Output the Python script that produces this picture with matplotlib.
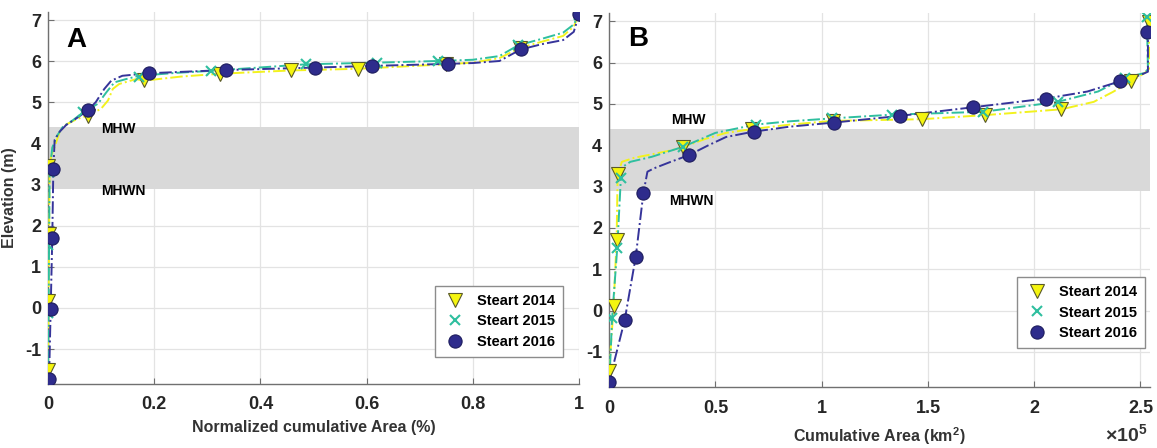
import numpy as np
import matplotlib
matplotlib.use("Agg")
import matplotlib.pyplot as plt
from matplotlib.ticker import FuncFormatter, MultipleLocator
from matplotlib.lines import Line2D

plt.rcParams['font.family'] = ['Liberation Sans', 'DejaVu Sans']
plt.rcParams['font.weight'] = 'bold'
plt.rcParams['axes.unicode_minus'] = False
plt.rcParams['mathtext.fontset'] = 'custom'
plt.rcParams['mathtext.rm'] = 'Liberation Sans:bold'
plt.rcParams['mathtext.bf'] = 'Liberation Sans:bold'

labels = ['Steart 2014', 'Steart 2015', 'Steart 2016']
mhw = 4.4
mhwn = 2.9

# panel A: normalized cumulative area, curves and marker points
a14_x = [0.0, 0.001, 0.002, 0.003, 0.006, 0.0125, 0.022, 0.035, 0.055, 0.077, 0.1, 0.113, 0.122, 0.134,
         0.166, 0.18, 0.25, 0.324, 0.458, 0.584, 0.749, 0.80, 0.85, 0.889, 0.93, 0.97, 0.99, 1.0]
a14_y = [-1.50, 0.16, 1.81, 3.45, 3.7, 3.92, 4.29, 4.47, 4.6, 4.69, 4.85, 5.05, 5.33, 5.45,
         5.57, 5.53, 5.63, 5.70, 5.78, 5.82, 5.93, 5.97, 6.08, 6.33, 6.48, 6.62, 6.85, 7.15]
a15_x = [0.0, 0.001, 0.002, 0.003, 0.008, 0.016, 0.028, 0.047, 0.066, 0.094, 0.11, 0.125, 0.147, 0.172,
         0.24, 0.307, 0.486, 0.62, 0.735, 0.80, 0.85, 0.885, 0.93, 0.97, 0.99, 1.0]
a15_y = [-1.84, -0.13, 1.53, 3.30, 3.9, 4.17, 4.41, 4.57, 4.76, 4.97, 5.25, 5.49, 5.57, 5.65,
         5.72, 5.77, 5.93, 5.97, 6.01, 6.04, 6.13, 6.39, 6.55, 6.7, 6.9, 7.14]
a16_x = [0.002, 0.005, 0.008, 0.010, 0.0125, 0.022, 0.034, 0.053, 0.075, 0.09, 0.106, 0.119, 0.14, 0.187,
         0.26, 0.336, 0.503, 0.61, 0.753, 0.80, 0.85, 0.89, 0.93, 0.97, 0.99, 1.0]
a16_y = [-1.72, -0.03, 1.69, 3.38, 4.09, 4.29, 4.45, 4.61, 4.81, 5.01, 5.33, 5.53, 5.65, 5.71,
         5.75, 5.79, 5.85, 5.89, 5.94, 5.96, 6.01, 6.29, 6.42, 6.52, 6.72, 7.15]
a14_mx = [0.0, 0.0, 0.002, 0.0, 0.075, 0.181, 0.324, 0.458, 0.584, 0.749, 0.889, 1.0]
a14_my = [-1.50, 0.16, 1.81, 3.45, 4.68, 5.55, 5.70, 5.78, 5.82, 5.93, 6.33, 7.15]
a15_mx = [0.0, 0.0, 0.0, 0.002, 0.066, 0.171, 0.307, 0.486, 0.62, 0.735, 0.885, 1.0]
a15_my = [-1.84, -0.13, 1.53, 3.30, 4.76, 5.62, 5.77, 5.93, 5.97, 6.01, 6.39, 7.14]
a16_mx = [0.002, 0.005, 0.008, 0.010, 0.075, 0.19, 0.336, 0.503, 0.61, 0.753, 0.89, 1.0]
a16_my = [-1.72, -0.03, 1.69, 3.38, 4.81, 5.71, 5.79, 5.85, 5.89, 5.94, 6.29, 7.15]

# panel B: cumulative area (x 1e5 km2)
b14_x = [0.0, 0.021, 0.035, 0.040, 0.06, 0.12, 0.2, 0.294, 0.346, 0.45, 0.55, 0.671, 0.85, 1.052, 1.47,
         1.77, 2.128, 2.28, 2.37, 2.457, 2.526, 2.54, 2.54]
b14_y = [-1.47, 0.11, 1.71, 3.31, 3.6, 3.7, 3.78, 3.88, 3.95, 4.15, 4.3, 4.39, 4.5, 4.59, 4.63,
         4.73, 4.87, 5.05, 5.29, 5.55, 5.77, 5.85, 6.98]
b15_x = [0.0, 0.014, 0.038, 0.055, 0.07, 0.1, 0.2, 0.346, 0.5, 0.689, 0.85, 1.047, 1.33, 1.761,
         2.11, 2.3, 2.426, 2.52, 2.535, 2.53]
b15_y = [-1.84, -0.17, 1.51, 3.2, 3.5, 3.6, 3.72, 3.96, 4.3, 4.5, 4.58, 4.65, 4.74, 4.81,
         5.05, 5.3, 5.63, 5.75, 5.85, 7.10]
b16_x = [0.0, 0.073, 0.125, 0.161, 0.18, 0.21, 0.29, 0.375, 0.467, 0.55, 0.68, 0.85, 1.059, 1.367,
         1.713, 2.055, 2.25, 2.405, 2.5, 2.535, 2.535]
b16_y = [-1.72, -0.23, 1.30, 2.84, 3.36, 3.44, 3.6, 3.76, 4.0, 4.2, 4.33, 4.45, 4.55, 4.71,
         4.92, 5.13, 5.3, 5.55, 5.7, 5.78, 6.75]
b14_mx = [0.0, 0.021, 0.035, 0.040, 0.346, 0.671, 1.052, 1.47, 1.77, 2.128, 2.457, 2.54]
b14_my = [-1.47, 0.11, 1.71, 3.31, 3.95, 4.39, 4.59, 4.63, 4.73, 4.87, 5.55, 6.98]
b15_mx = [0.0, 0.014, 0.038, 0.055, 0.346, 0.689, 1.047, 1.33, 1.761, 2.11, 2.426, 2.53]
b15_my = [-1.84, -0.17, 1.51, 3.2, 3.96, 4.5, 4.65, 4.74, 4.81, 5.05, 5.63, 7.10]
b16_mx = [0.0, 0.073, 0.125, 0.161, 0.375, 0.68, 1.059, 1.367, 1.713, 2.055, 2.405, 2.53]
b16_my = [-1.72, -0.23, 1.30, 2.84, 3.76, 4.33, 4.55, 4.71, 4.92, 5.13, 5.55, 6.75]

line_colors = ['#f2f21e', '#2fbf9f', '#36349a']
styles = [dict(marker='v', ms=9.5, mfc='#f5f50f', mec='#5a5a2a', mew=0.8),
          dict(marker='x', ms=7, mfc='#2fbf9f', mec='#2fbf9f', mew=1.5),
          dict(marker='o', ms=9.5, mfc='#2e2c8c', mec='#1e1d5e', mew=0.8)]


def setup_axes(ax, xlim, xtick_step, xfmt):
    ax.set_xlim(*xlim)
    ax.set_ylim(-1.85, 7.2)
    ax.xaxis.set_major_locator(MultipleLocator(xtick_step))
    ax.yaxis.set_major_locator(MultipleLocator(1))
    ax.xaxis.set_major_formatter(FuncFormatter(xfmt))
    ax.yaxis.set_major_formatter(FuncFormatter(lambda v, p: '%g' % v))
    ax.grid(True, color='#e3e3e3', lw=0.9, zorder=0)
    ax.set_axisbelow(True)
    for s in ['top', 'right']:
        ax.spines[s].set_visible(False)
    for s in ['left', 'bottom']:
        ax.spines[s].set_color('#707070')
        ax.spines[s].set_linewidth(1.0)
    ax.tick_params(direction='in', length=4, color='#707070', labelsize=13, labelcolor='#262626')
    ax.tick_params(axis='x', pad=9)
    ax.tick_params(axis='y', pad=5)
    for lab in ax.get_xticklabels() + ax.get_yticklabels():
        lab.set_fontweight('bold')
    ax.axhspan(mhwn, mhw, color='#d9d9d9', lw=0, zorder=1)


def draw_panel(ax, curves, marks):
    for (cx, cy), (mx, my), col, st in zip(curves, marks, line_colors, styles):
        ax.plot(cx, cy, ls='-.', color=col, lw=1.4, zorder=3)
        ax.plot(mx, my, ls='none', zorder=4, **st)


fig = plt.figure(figsize=(11.57, 4.48), dpi=100)
ax1 = fig.add_axes([0.0415, 0.143, 0.459, 0.83])
ax2 = fig.add_axes([0.5265, 0.136, 0.4675, 0.835])

setup_axes(ax1, (0, 1), 0.2, lambda v, p: '%g' % round(v, 2))
draw_panel(ax1, [(a14_x, a14_y), (a15_x, a15_y), (a16_x, a16_y)],
           [(a14_mx, a14_my), (a15_mx, a15_my), (a16_mx, a16_my)])
ax1.set_xlabel('Normalized cumulative Area (%)', fontsize=11.5, fontweight='bold', color='#333333', labelpad=5)
ax1.set_ylabel('Elevation (m)', fontsize=11.5, fontweight='bold', color='#333333', labelpad=6)
ax1.text(0.1, mhw - 0.05, 'MHW', fontsize=10, fontweight='bold', va='center', zorder=5)
ax1.text(0.1, mhwn - 0.05, 'MHWN', fontsize=10, fontweight='bold', va='center', zorder=5)
ax1.text(0.035, 0.925, 'A', transform=ax1.transAxes, fontsize=20, fontweight='bold', va='center')

scale = 1e5
setup_axes(ax2, (0, 2.545 * scale), 0.5 * scale, lambda v, p: '%g' % round(v / scale, 2))
draw_panel(ax2, [(np.array(b14_x) * scale, b14_y), (np.array(b15_x) * scale, b15_y), (np.array(b16_x) * scale, b16_y)],
           [(np.array(b14_mx) * scale, b14_my), (np.array(b15_mx) * scale, b15_my), (np.array(b16_mx) * scale, b16_my)])
ax2.set_xlabel(r'Cumulative Area (km$^{2}$)', fontsize=11.5, fontweight='bold', color='#333333', labelpad=6)
ax2.text(0.29 * scale, mhw + 0.2, 'MHW', fontsize=10, fontweight='bold', va='center', zorder=5)
ax2.text(0.28 * scale, mhwn - 0.25, 'MHWN', fontsize=10, fontweight='bold', va='center', zorder=5)
ax2.text(0.035, 0.93, 'B', transform=ax2.transAxes, fontsize=20, fontweight='bold', va='center')
fig.text(0.992, 0.004, r'$\times$10$^{5}$', fontsize=14, ha='right', va='bottom', color='#333333')

handles = [Line2D([], [], ls='none', **st) for st in styles]
for ax, anchor in [(ax1, (0.97, 0.073)), (ax2, (0.99, 0.104))]:
    leg = ax.legend(handles, labels, loc='lower right', bbox_to_anchor=anchor,
                    prop={'weight': 'bold', 'size': 10.5}, fancybox=False, framealpha=1,
                    edgecolor='#8c8c8c', borderpad=0.55, labelspacing=0.45, handletextpad=0.7,
                    handlelength=1.6, borderaxespad=0)
    leg.get_frame().set_linewidth(1.0)
    leg.set_zorder(10)

fig.savefig('out.png', dpi=100)
